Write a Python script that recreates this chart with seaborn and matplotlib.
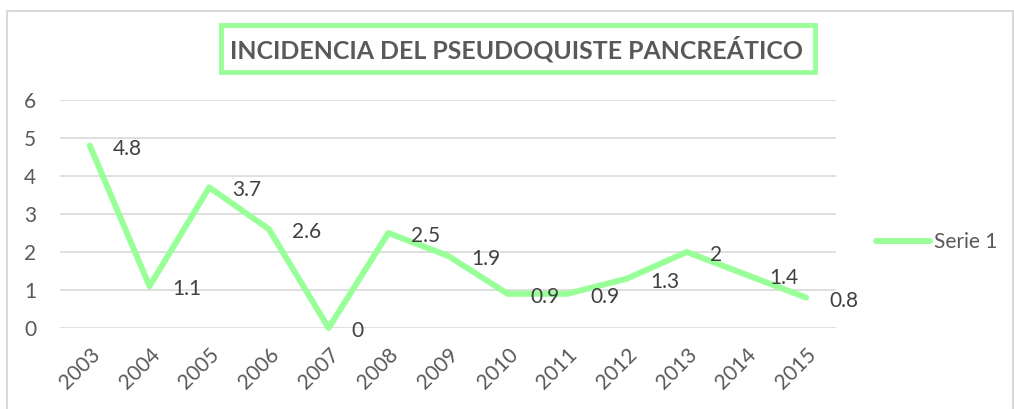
import numpy as np
import pandas as pd
import matplotlib
matplotlib.use("Agg")
import matplotlib.pyplot as plt
import seaborn as sns
from matplotlib.patches import Rectangle

# ---------- data ----------
years = ["2003", "2004", "2005", "2006", "2007", "2008", "2009",
         "2010", "2011", "2012", "2013", "2014", "2015"]
incidence = [4.8, 1.1, 3.7, 2.6, 0, 2.5, 1.9, 0.9, 0.9, 1.3, 2, 1.4, 0.8]
series_name = "Serie 1"
title = "INCIDENCIA DEL PSEUDOQUISTE PANCREÁTICO"

df = pd.DataFrame({"year": years, "value": incidence})

GREEN = "#99FF99"
GRID = "#d9d9d9"
TICK = "#595959"
LABEL = "#404040"
FS = 15

sns.set_theme(style="white")
plt.rcParams["font.family"] = ["Lato", "DejaVu Sans"]

W, H = 1014, 409
fig = plt.figure(figsize=(W / 100, H / 100), dpi=100)
fig.patch.set_facecolor("white")

# outer chart frame
fig.add_artist(Rectangle((7 / W, 1 - 420 / H), 1006 / W, 409 / H,
                         transform=fig.transFigure, fill=False,
                         edgecolor=GRID, lw=1.5))

# plot area: x 60..836 px, y=6 at 100 px, y=0 at 328 px
ax = fig.add_axes([60 / W, 1 - 328 / H, 776 / W, 228 / H])
sns.lineplot(data=df, x="year", y="value", ax=ax, color=GREEN, lw=4.3,
             label=series_name, sort=False, clip_on=False,
             solid_capstyle="round", solid_joinstyle="round")

ax.set_xlim(-0.5, len(years) - 0.5)
ax.set_ylim(0, 6)
ax.set_yticks(range(0, 7))
ax.grid(axis="y", color=GRID, lw=1.2)
ax.set_axisbelow(True)
for s in ax.spines.values():
    s.set_visible(False)
ax.set_xlabel("")
ax.set_ylabel("")
ax.tick_params(axis="y", length=0, pad=17, labelsize=FS, labelcolor=TICK)
ax.tick_params(axis="x", length=0, pad=12, labelsize=FS, labelcolor=TICK)
ax.set_xticks(range(len(years)))
ax.set_xticklabels(years, rotation=45, ha="right", va="top",
                   rotation_mode="anchor")

# data labels to the right of each point
for i, v in enumerate(incidence):
    ax.annotate(f"{v:g}", (i, v), xytext=(23, -3), textcoords="offset pixels",
                ha="left", va="center", fontsize=FS, color=LABEL)

# legend
ax.legend(loc="center left", bbox_to_anchor=(876 / W, 1 - 242 / H),
          bbox_transform=fig.transFigure, frameon=False, fontsize=FS,
          handlelength=2.6, handletextpad=0.2, borderpad=0, borderaxespad=0,
          labelcolor=TICK)

# title with green box
fig.add_artist(Rectangle((221 / W, 1 - 72 / H), 594 / W, 47 / H,
                         transform=fig.transFigure, fill=False,
                         edgecolor=GREEN, lw=3.5))
fig.text(517 / W, 1 - 59 / H, title, ha="center", va="baseline",
         fontsize=17.9, fontweight="bold", color=TICK)

fig.savefig("out.png", dpi=100)
